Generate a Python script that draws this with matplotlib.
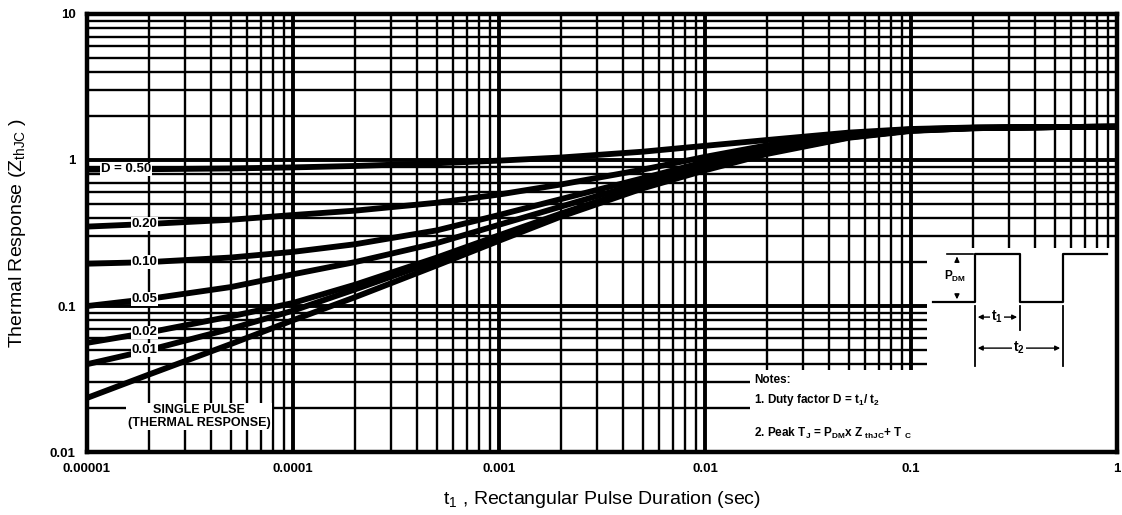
import matplotlib
matplotlib.use("Agg")
import matplotlib.pyplot as plt
from matplotlib.patches import Rectangle

plt.rcParams['font.family'] = ['Liberation Sans', 'DejaVu Sans']
plt.rcParams['font.weight'] = 'bold'

# pulse duration (sec)
t1 = [1e-5, 2e-5, 5e-5, 1e-4, 2e-4, 5e-4, 1e-3, 2e-3, 5e-3,
      1e-2, 2e-2, 5e-2, 0.1, 0.2, 0.5, 1.0]

# Zth curves
d050 = [0.86, 0.865, 0.875, 0.89, 0.91, 0.95, 0.99, 1.04, 1.14, 1.25, 1.37, 1.54, 1.63, 1.67, 1.68, 1.69]
d020 = [0.35, 0.365, 0.39, 0.42, 0.45, 0.51, 0.58, 0.68, 0.86, 1.05, 1.26, 1.51, 1.62, 1.66, 1.68, 1.69]
d010 = [0.195, 0.20, 0.215, 0.235, 0.265, 0.33, 0.42, 0.54, 0.75, 0.97, 1.2, 1.48, 1.61, 1.66, 1.68, 1.69]
d005 = [0.100, 0.112, 0.135, 0.165, 0.20, 0.27, 0.36, 0.48, 0.70, 0.92, 1.16, 1.46, 1.60, 1.66, 1.68, 1.69]
d002 = [0.056, 0.066, 0.085, 0.105, 0.14, 0.215, 0.305, 0.43, 0.66, 0.88, 1.13, 1.44, 1.59, 1.65, 1.68, 1.69]
d001 = [0.040, 0.050, 0.070, 0.093, 0.13, 0.205, 0.295, 0.42, 0.65, 0.87, 1.12, 1.43, 1.59, 1.65, 1.68, 1.69]
single = [0.0235, 0.034, 0.055, 0.08, 0.115, 0.19, 0.28, 0.41, 0.64, 0.85, 1.1, 1.42, 1.58, 1.65, 1.68, 1.69]

curves = [d050, d020, d010, d005, d002, d001, single]
labels = ['D = 0.50', '0.20', '0.10', '0.05', '0.02', '0.01', None]

xticks = [1e-5, 1e-4, 1e-3, 1e-2, 1e-1, 1]
xticklabels = ['0.00001', '0.0001', '0.001', '0.01', '0.1', '1']
yticks = [0.01, 0.1, 1, 10]
yticklabels = ['0.01', '0.1', '1', '10']

fig = plt.figure(figsize=(11.22, 5.15), dpi=100)
ax = fig.add_axes([0.0775, 0.122, 0.918, 0.851])
ax.set_xscale('log')
ax.set_yscale('log')
ax.set_xlim(1e-5, 1)
ax.set_ylim(0.01, 10)

ax.grid(True, which='major', color='black', lw=2.8)
ax.grid(True, which='minor', color='black', lw=1.7)
ax.set_axisbelow(True)

# white areas for the notes / pulse sketch
ax.add_patch(Rectangle((0.12, 0.0101), 0.879, 0.24, facecolor='white', edgecolor='none', zorder=1.5))
ax.add_patch(Rectangle((0.0165, 0.0101), 0.9834, 0.0265, facecolor='white', edgecolor='none', zorder=1.5))

for y in curves:
    ax.plot(t1, y, color='black', lw=4.2, zorder=3, solid_capstyle='butt')

for y, lab in zip(curves, labels):
    if lab is None:
        continue
    xpos = 1.55e-5 if lab.startswith('D') else 1.9e-5
    ax.text(xpos, y[1], lab, fontsize=9.5, ha='center', va='center', zorder=4,
            bbox=dict(facecolor='white', edgecolor='none', pad=0.5))

ax.text(3.5e-5, 0.0175, 'SINGLE PULSE\n(THERMAL RESPONSE)', fontsize=9,
        ha='center', va='center', linespacing=1.1, zorder=4,
        bbox=dict(facecolor='white', edgecolor='none', pad=1))

# pulse sketch (axes fraction)
tr = ax.transAxes
def fx(px):
    return (px - 87) / 1030.0
def fy(py):
    return (452 - py) / 438.0

ax.plot([fx(933), fx(975), fx(975), fx(1020), fx(1020), fx(1063), fx(1063), fx(1107)],
        [fy(302), fy(302), fy(254), fy(254), fy(302), fy(302), fy(254), fy(254)],
        transform=tr, color='black', lw=1.6, zorder=5)
ax.plot([fx(947), fx(973)], [fy(254), fy(254)], transform=tr, color='black', lw=1.2, zorder=5)
ax.annotate('', xy=(fx(957), fy(254)), xytext=(fx(957), fy(262)), xycoords=tr,
            arrowprops=dict(arrowstyle='-|>', color='black', lw=1, mutation_scale=7), zorder=5)
ax.annotate('', xy=(fx(957), fy(302)), xytext=(fx(957), fy(292)), xycoords=tr,
            arrowprops=dict(arrowstyle='-|>', color='black', lw=1, mutation_scale=7), zorder=5)
ax.text(fx(955), fy(276), r'P$_{\mathregular{DM}}$', transform=tr, fontsize=8.5,
        ha='center', va='center', zorder=5)
ax.plot([fx(975), fx(975)], [fy(306), fy(366)], transform=tr, color='black', lw=1.3, zorder=5)
ax.plot([fx(1020), fx(1020)], [fy(306), fy(330)], transform=tr, color='black', lw=1.3, zorder=5)
ax.plot([fx(1063), fx(1063)], [fy(306), fy(366)], transform=tr, color='black', lw=1.3, zorder=5)
ax.annotate('', xy=(fx(975), fy(317)), xytext=(fx(1020), fy(317)), xycoords=tr,
            arrowprops=dict(arrowstyle='<|-|>', color='black', lw=1, mutation_scale=7), zorder=5)
ax.text(fx(997), fy(317), r't$_{\mathregular{1}}$', transform=tr, fontsize=10,
        ha='center', va='center', zorder=6, bbox=dict(facecolor='white', edgecolor='none', pad=0.5))
ax.annotate('', xy=(fx(975), fy(348)), xytext=(fx(1063), fy(348)), xycoords=tr,
            arrowprops=dict(arrowstyle='<|-|>', color='black', lw=1, mutation_scale=7), zorder=5)
ax.text(fx(1019), fy(348), r't$_{\mathregular{2}}$', transform=tr, fontsize=10,
        ha='center', va='center', zorder=6, bbox=dict(facecolor='white', edgecolor='none', pad=0.5))

# notes
ax.text(fx(754), fy(380), 'Notes:', transform=tr, fontsize=8.5, ha='left', va='center', zorder=5)
ax.text(fx(754), fy(400), r'1. Duty factor D = t$_{\mathregular{1}}$/ t$_{\mathregular{2}}$',
        transform=tr, fontsize=8.5, ha='left', va='center', zorder=5)
ax.text(fx(754), fy(433), r'2. Peak T$_{\mathregular{J}}$ = P$_{\mathregular{DM}}$x Z $_{\mathregular{thJC}}$+ T $_{\mathregular{C}}$',
        transform=tr, fontsize=8.5, ha='left', va='center', zorder=5)

for s in ax.spines.values():
    s.set_linewidth(3.2)
ax.set_xticks(xticks)
ax.set_xticklabels(xticklabels)
ax.set_yticks(yticks)
ax.set_yticklabels(yticklabels)
ax.tick_params(which='both', length=0, labelsize=9.5, pad=8)

ax.set_xlabel(r't$_{\mathregular{1}}$ , Rectangular Pulse Duration (sec)', fontsize=14,
              fontweight='normal', labelpad=10)
ax.set_ylabel(r'Thermal Response (Z$_{\mathregular{thJC}}$ )', fontsize=14,
              fontweight='normal', labelpad=16)

fig.savefig('out.png', dpi=100)
